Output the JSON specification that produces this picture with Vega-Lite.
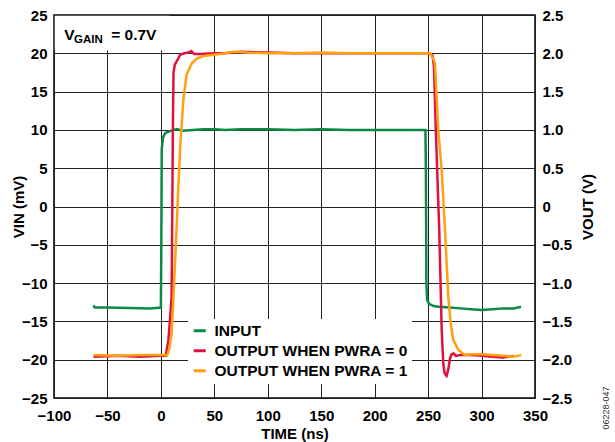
{
  "$schema": "https://vega.github.io/schema/vega-lite/v6.json",
  "width": 481,
  "height": 383,
  "autosize": "none",
  "padding": {"left": 54, "top": 15, "right": 80, "bottom": 44},
  "config": {
    "font": "Liberation Sans",
    "view": {"stroke": "#000", "strokeWidth": 1.5},
    "axis": {
      "labelFont": "Liberation Sans", "labelFontWeight": "bold", "labelFontSize": 15, "labelColor": "#000",
      "titleFont": "Liberation Sans", "titleFontWeight": "bold", "titleFontSize": 15, "titleColor": "#000",
      "ticks": false, "tickSize": 0, "domain": false, "labelOverlap": false,
      "gridColor": "#222", "gridWidth": 1, "gridOpacity": 1
    }
  },
  "datasets": {
    "input": [
      {"t": -63, "vin": -12.9, "series": "INPUT"},
      {"t": -62, "vin": -13.2, "series": "INPUT"},
      {"t": -50, "vin": -13.2, "series": "INPUT"},
      {"t": -30, "vin": -13.25, "series": "INPUT"},
      {"t": -10, "vin": -13.3, "series": "INPUT"},
      {"t": 0, "vin": -13.2, "series": "INPUT"},
      {"t": 0.4, "vin": -5, "series": "INPUT"},
      {"t": 0.8, "vin": 7.5, "series": "INPUT"},
      {"t": 2, "vin": 9.0, "series": "INPUT"},
      {"t": 4, "vin": 9.6, "series": "INPUT"},
      {"t": 8, "vin": 9.8, "series": "INPUT"},
      {"t": 12, "vin": 10.0, "series": "INPUT"},
      {"t": 15, "vin": 10.1, "series": "INPUT"},
      {"t": 20, "vin": 9.9, "series": "INPUT"},
      {"t": 30, "vin": 10.0, "series": "INPUT"},
      {"t": 40, "vin": 10.1, "series": "INPUT"},
      {"t": 50, "vin": 10.1, "series": "INPUT"},
      {"t": 60, "vin": 10.0, "series": "INPUT"},
      {"t": 75, "vin": 10.1, "series": "INPUT"},
      {"t": 100, "vin": 10.1, "series": "INPUT"},
      {"t": 125, "vin": 10.0, "series": "INPUT"},
      {"t": 150, "vin": 10.1, "series": "INPUT"},
      {"t": 175, "vin": 10.0, "series": "INPUT"},
      {"t": 200, "vin": 10.0, "series": "INPUT"},
      {"t": 225, "vin": 10.0, "series": "INPUT"},
      {"t": 240, "vin": 10.0, "series": "INPUT"},
      {"t": 247.5, "vin": 10.0, "series": "INPUT"},
      {"t": 247.9, "vin": 5, "series": "INPUT"},
      {"t": 248.4, "vin": -10, "series": "INPUT"},
      {"t": 249, "vin": -12.2, "series": "INPUT"},
      {"t": 251, "vin": -12.7, "series": "INPUT"},
      {"t": 255, "vin": -13.0, "series": "INPUT"},
      {"t": 260, "vin": -13.1, "series": "INPUT"},
      {"t": 270, "vin": -13.2, "series": "INPUT"},
      {"t": 280, "vin": -13.3, "series": "INPUT"},
      {"t": 290, "vin": -13.4, "series": "INPUT"},
      {"t": 300, "vin": -13.5, "series": "INPUT"},
      {"t": 310, "vin": -13.4, "series": "INPUT"},
      {"t": 320, "vin": -13.3, "series": "INPUT"},
      {"t": 330, "vin": -13.3, "series": "INPUT"},
      {"t": 337, "vin": -13.1, "series": "INPUT"}
    ],
    "output": [
      {"t": -63, "vout": -1.96, "series": "OUTPUT WHEN PWRA = 0"},
      {"t": -40, "vout": -1.95, "series": "OUTPUT WHEN PWRA = 0"},
      {"t": -20, "vout": -1.96, "series": "OUTPUT WHEN PWRA = 0"},
      {"t": 0, "vout": -1.95, "series": "OUTPUT WHEN PWRA = 0"},
      {"t": 4.5, "vout": -1.95, "series": "OUTPUT WHEN PWRA = 0"},
      {"t": 7, "vout": -1.75, "series": "OUTPUT WHEN PWRA = 0"},
      {"t": 10, "vout": -1.2, "series": "OUTPUT WHEN PWRA = 0"},
      {"t": 10.7, "vout": 0, "series": "OUTPUT WHEN PWRA = 0"},
      {"t": 11.2, "vout": 1.0, "series": "OUTPUT WHEN PWRA = 0"},
      {"t": 11.8, "vout": 1.75, "series": "OUTPUT WHEN PWRA = 0"},
      {"t": 13, "vout": 1.85, "series": "OUTPUT WHEN PWRA = 0"},
      {"t": 15, "vout": 1.9, "series": "OUTPUT WHEN PWRA = 0"},
      {"t": 18, "vout": 1.98, "series": "OUTPUT WHEN PWRA = 0"},
      {"t": 22, "vout": 2.0, "series": "OUTPUT WHEN PWRA = 0"},
      {"t": 26, "vout": 2.01, "series": "OUTPUT WHEN PWRA = 0"},
      {"t": 28.5, "vout": 2.03, "series": "OUTPUT WHEN PWRA = 0"},
      {"t": 31, "vout": 1.99, "series": "OUTPUT WHEN PWRA = 0"},
      {"t": 36, "vout": 1.99, "series": "OUTPUT WHEN PWRA = 0"},
      {"t": 50, "vout": 2.0, "series": "OUTPUT WHEN PWRA = 0"},
      {"t": 60, "vout": 2.0, "series": "OUTPUT WHEN PWRA = 0"},
      {"t": 75, "vout": 2.02, "series": "OUTPUT WHEN PWRA = 0"},
      {"t": 100, "vout": 2.01, "series": "OUTPUT WHEN PWRA = 0"},
      {"t": 125, "vout": 2.0, "series": "OUTPUT WHEN PWRA = 0"},
      {"t": 150, "vout": 2.0, "series": "OUTPUT WHEN PWRA = 0"},
      {"t": 175, "vout": 2.0, "series": "OUTPUT WHEN PWRA = 0"},
      {"t": 200, "vout": 2.0, "series": "OUTPUT WHEN PWRA = 0"},
      {"t": 225, "vout": 2.0, "series": "OUTPUT WHEN PWRA = 0"},
      {"t": 250, "vout": 2.0, "series": "OUTPUT WHEN PWRA = 0"},
      {"t": 254, "vout": 1.98, "series": "OUTPUT WHEN PWRA = 0"},
      {"t": 255.5, "vout": 1.83, "series": "OUTPUT WHEN PWRA = 0"},
      {"t": 257.3, "vout": 0.95, "series": "OUTPUT WHEN PWRA = 0"},
      {"t": 260.4, "vout": -0.3, "series": "OUTPUT WHEN PWRA = 0"},
      {"t": 262.7, "vout": -1.61, "series": "OUTPUT WHEN PWRA = 0"},
      {"t": 264.2, "vout": -2.05, "series": "OUTPUT WHEN PWRA = 0"},
      {"t": 265.5, "vout": -2.18, "series": "OUTPUT WHEN PWRA = 0"},
      {"t": 267.3, "vout": -2.21, "series": "OUTPUT WHEN PWRA = 0"},
      {"t": 269, "vout": -2.12, "series": "OUTPUT WHEN PWRA = 0"},
      {"t": 270.5, "vout": -1.98, "series": "OUTPUT WHEN PWRA = 0"},
      {"t": 272, "vout": -1.93, "series": "OUTPUT WHEN PWRA = 0"},
      {"t": 274, "vout": -1.92, "series": "OUTPUT WHEN PWRA = 0"},
      {"t": 276, "vout": -1.95, "series": "OUTPUT WHEN PWRA = 0"},
      {"t": 280, "vout": -1.94, "series": "OUTPUT WHEN PWRA = 0"},
      {"t": 290, "vout": -1.94, "series": "OUTPUT WHEN PWRA = 0"},
      {"t": 300, "vout": -1.95, "series": "OUTPUT WHEN PWRA = 0"},
      {"t": 310, "vout": -1.96, "series": "OUTPUT WHEN PWRA = 0"},
      {"t": 320, "vout": -1.97, "series": "OUTPUT WHEN PWRA = 0"},
      {"t": 330, "vout": -1.95, "series": "OUTPUT WHEN PWRA = 0"},
      {"t": -63, "vout": -1.94, "series": "OUTPUT WHEN PWRA = 1"},
      {"t": -40, "vout": -1.95, "series": "OUTPUT WHEN PWRA = 1"},
      {"t": -20, "vout": -1.94, "series": "OUTPUT WHEN PWRA = 1"},
      {"t": 0, "vout": -1.94, "series": "OUTPUT WHEN PWRA = 1"},
      {"t": 6, "vout": -1.94, "series": "OUTPUT WHEN PWRA = 1"},
      {"t": 8, "vout": -1.85, "series": "OUTPUT WHEN PWRA = 1"},
      {"t": 10, "vout": -1.66, "series": "OUTPUT WHEN PWRA = 1"},
      {"t": 11.6, "vout": -1.22, "series": "OUTPUT WHEN PWRA = 1"},
      {"t": 14, "vout": -0.5, "series": "OUTPUT WHEN PWRA = 1"},
      {"t": 16, "vout": 0.15, "series": "OUTPUT WHEN PWRA = 1"},
      {"t": 18, "vout": 0.76, "series": "OUTPUT WHEN PWRA = 1"},
      {"t": 21, "vout": 1.39, "series": "OUTPUT WHEN PWRA = 1"},
      {"t": 24, "vout": 1.72, "series": "OUTPUT WHEN PWRA = 1"},
      {"t": 29, "vout": 1.87, "series": "OUTPUT WHEN PWRA = 1"},
      {"t": 33.5, "vout": 1.93, "series": "OUTPUT WHEN PWRA = 1"},
      {"t": 40, "vout": 1.965, "series": "OUTPUT WHEN PWRA = 1"},
      {"t": 55, "vout": 1.99, "series": "OUTPUT WHEN PWRA = 1"},
      {"t": 68, "vout": 2.02, "series": "OUTPUT WHEN PWRA = 1"},
      {"t": 80, "vout": 2.01, "series": "OUTPUT WHEN PWRA = 1"},
      {"t": 100, "vout": 2.0, "series": "OUTPUT WHEN PWRA = 1"},
      {"t": 125, "vout": 2.0, "series": "OUTPUT WHEN PWRA = 1"},
      {"t": 150, "vout": 2.01, "series": "OUTPUT WHEN PWRA = 1"},
      {"t": 175, "vout": 2.0, "series": "OUTPUT WHEN PWRA = 1"},
      {"t": 200, "vout": 2.0, "series": "OUTPUT WHEN PWRA = 1"},
      {"t": 225, "vout": 2.0, "series": "OUTPUT WHEN PWRA = 1"},
      {"t": 245, "vout": 2.0, "series": "OUTPUT WHEN PWRA = 1"},
      {"t": 252, "vout": 2.0, "series": "OUTPUT WHEN PWRA = 1"},
      {"t": 254, "vout": 1.95, "series": "OUTPUT WHEN PWRA = 1"},
      {"t": 256.4, "vout": 1.87, "series": "OUTPUT WHEN PWRA = 1"},
      {"t": 259.5, "vout": 1.0, "series": "OUTPUT WHEN PWRA = 1"},
      {"t": 262.7, "vout": 0.48, "series": "OUTPUT WHEN PWRA = 1"},
      {"t": 265.8, "vout": -0.3, "series": "OUTPUT WHEN PWRA = 1"},
      {"t": 268.9, "vout": -1.18, "series": "OUTPUT WHEN PWRA = 1"},
      {"t": 271.1, "vout": -1.52, "series": "OUTPUT WHEN PWRA = 1"},
      {"t": 273.5, "vout": -1.74, "series": "OUTPUT WHEN PWRA = 1"},
      {"t": 278.2, "vout": -1.87, "series": "OUTPUT WHEN PWRA = 1"},
      {"t": 284.5, "vout": -1.94, "series": "OUTPUT WHEN PWRA = 1"},
      {"t": 290, "vout": -1.93, "series": "OUTPUT WHEN PWRA = 1"},
      {"t": 300, "vout": -1.93, "series": "OUTPUT WHEN PWRA = 1"},
      {"t": 310, "vout": -1.94, "series": "OUTPUT WHEN PWRA = 1"},
      {"t": 320, "vout": -1.95, "series": "OUTPUT WHEN PWRA = 1"},
      {"t": 330, "vout": -1.96, "series": "OUTPUT WHEN PWRA = 1"},
      {"t": 337, "vout": -1.94, "series": "OUTPUT WHEN PWRA = 1"}
    ],
    "labels": [
      {"label": "V", "kind": "main", "t": -90.4, "v": 21.74},
      {"label": "GAIN", "kind": "sub", "t": -81.2, "v": 21.3},
      {"label": "= 0.7V", "kind": "main", "t": -46.5, "v": 21.74}
    ]
  },
  "layer": [
    {
      "layer": [
        {
          "data": {"name": "input"},
          "mark": {"type": "line", "strokeWidth": 2.5, "clip": true},
          "encoding": {
            "x": {
              "field": "t", "type": "quantitative",
              "scale": {"domain": [-100, 350], "nice": false, "zero": false},
              "axis": {"values": [-100, -50, 0, 50, 100, 150, 200, 250, 300, 350], "tickCount": 20, "title": "TIME (ns)", "labelPadding": 10, "titlePadding": 3, "grid": true, "labelFlush": false, "labelOverlap": false}
            },
            "y": {
              "field": "vin", "type": "quantitative",
              "scale": {"domain": [-25, 25], "nice": false, "zero": false},
              "axis": {"orient": "left", "values": [-25, -20, -15, -10, -5, 0, 5, 10, 15, 20, 25], "tickCount": 20, "title": "VIN (mV)", "labelPadding": 7, "titlePadding": -5, "grid": true, "labelFlush": false, "labelOverlap": false}
            },
            "color": {
              "field": "series", "type": "nominal",
              "scale": {"domain": ["INPUT", "OUTPUT WHEN PWRA = 0", "OUTPUT WHEN PWRA = 1"], "range": ["#0a8a46", "#e2103c", "#ffa010"]},
              "legend": {
                "orient": "none", "legendX": 134, "legendY": 304, "title": null,
                "symbolType": "stroke", "symbolStrokeWidth": 3, "symbolSize": 144,
                "labelFont": "Liberation Sans", "labelFontSize": 15.5, "labelFontWeight": "bold", "labelColor": "#000",
                "labelOffset": 7, "labelLimit": 400, "rowPadding": 3, "fillColor": "white", "padding": 4
              }
            }
          }
        },
        {
          "data": {"values": [{}]},
          "mark": {"type": "rect", "fill": "white"},
          "encoding": {
            "x": {"datum": -99.3},
            "x2": {"datum": 8},
            "y": {"datum": 20.35},
            "y2": {"datum": 24.9}
          }
        },
        {
          "data": {"name": "labels"},
          "mark": {"type": "text", "align": "left", "baseline": "alphabetic", "fontWeight": "bold", "color": "#000", "font": "Liberation Sans"},
          "encoding": {
            "x": {"field": "t", "type": "quantitative"},
            "y": {"field": "v", "type": "quantitative"},
            "text": {"field": "label"},
            "size": {"field": "kind", "type": "nominal", "scale": {"domain": ["main", "sub"], "range": [15.5, 11.5]}, "legend": null}
          }
        },
        {
          "data": {"values": [{"label": "06228-047"}]},
          "mark": {"type": "text", "angle": 270, "align": "center", "baseline": "middle", "fontSize": 9, "color": "#333", "font": "Liberation Sans"},
          "encoding": {
            "x": {"datum": 416},
            "y": {"datum": -26.3},
            "text": {"field": "label"}
          }
        }
      ]
    },
    {
      "data": {"name": "output"},
      "mark": {"type": "line", "strokeWidth": 2.5, "clip": true},
      "encoding": {
        "x": {"field": "t", "type": "quantitative"},
        "y": {
          "field": "vout", "type": "quantitative",
          "scale": {"domain": [-2.5, 2.5], "nice": false, "zero": false},
          "axis": {"orient": "right", "values": [-2.5, -2, -1.5, -1, -0.5, 0, 0.5, 1, 1.5, 2, 2.5], "tickCount": 20, "labelExpr": "datum.value == 0 ? '0' : format(datum.value, '.1f')", "title": "VOUT (V)", "titleAngle": 270, "labelPadding": 7, "titlePadding": 24, "grid": false, "labelFlush": false, "labelOverlap": false}
        },
        "color": {
          "field": "series", "type": "nominal",
          "scale": {"domain": ["INPUT", "OUTPUT WHEN PWRA = 0", "OUTPUT WHEN PWRA = 1"], "range": ["#0a8a46", "#e2103c", "#ffa010"]}
        }
      }
    }
  ],
  "resolve": {"scale": {"y": "independent"}, "axis": {"y": "independent"}}
}
